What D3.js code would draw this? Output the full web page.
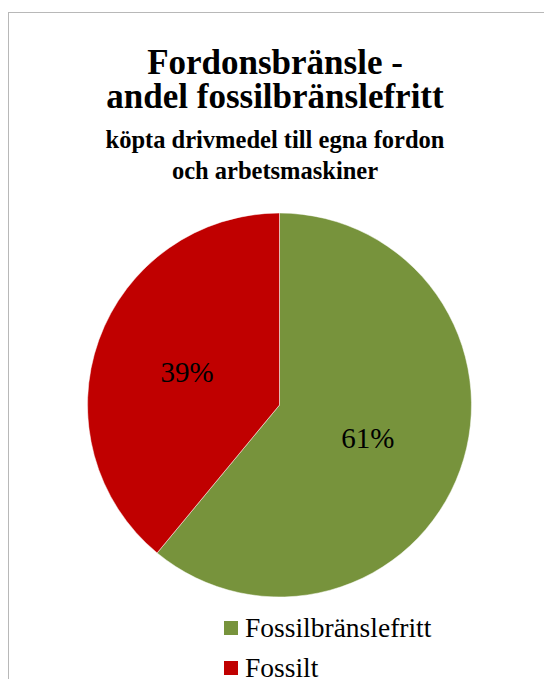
<!DOCTYPE html>
<html><head><meta charset="utf-8">
<script src="https://cdn.jsdelivr.net/npm/d3@7"></script>
<style>html,body{margin:0;padding:0;background:#fff;overflow:hidden}</style>
</head><body>
<svg id="chart" width="544" height="679"></svg>
<script>
const categories = ["Fossilbränslefritt", "Fossilt"];
const values = [61, 39];
const colors = ["#77933C", "#C00000"];
const titleLines = ["Fordonsbränsle -", "andel fossilbränslefritt"];
const subtitleLines = ["köpta drivmedel till egna fordon", "och arbetsmaskiner"];

const FONT = '"Liberation Serif"';
const svg = d3.select("#chart");

svg.append("rect").attr("x", 8.5).attr("y", 12.5).attr("width", 560).attr("height", 700)
  .attr("fill", "#fff").attr("stroke", "#b8b8b8").attr("stroke-width", 1);

const tcx = 275;
svg.selectAll("text.title").data(titleLines).join("text").attr("class", "title")
  .attr("x", tcx).attr("y", (d, i) => 74 + i * 34)
  .attr("text-anchor", "middle").style("font-family", FONT)
  .attr("font-weight", "bold").attr("font-size", 35).attr("fill", "#000").text(d => d);
svg.selectAll("text.sub").data(subtitleLines).join("text").attr("class", "sub")
  .attr("x", tcx).attr("y", (d, i) => 148 + i * 31)
  .attr("text-anchor", "middle").style("font-family", FONT)
  .attr("font-weight", "bold").attr("font-size", 24.5).attr("fill", "#000").text(d => d);

const cx = 279.5, cy = 405, r = 192;
const pie = d3.pie().sort(null).value(d => d.v);
const data = pie(categories.map((c, i) => ({c, v: values[i], col: colors[i]})));
const arc = d3.arc().innerRadius(0).outerRadius(r);
const g = svg.append("g").attr("transform", `translate(${cx},${cy})`);
g.selectAll("path").data(data).join("path").attr("d", arc)
  .attr("fill", d => d.data.col).attr("stroke", "#fff").attr("stroke-width", 0.5);
const total = d3.sum(values);
g.selectAll("text").data(data).join("text")
  .attr("x", d => arc.centroid(d)[0] - 2)
  .attr("y", d => arc.centroid(d)[1] + 10)
  .attr("text-anchor", "middle").style("font-family", FONT).attr("font-size", 29)
  .attr("fill", "#000").text(d => Math.round(d.data.v / total * 100) + "%");

const lg = svg.append("g");
const items = lg.selectAll("g").data(categories).join("g")
  .attr("transform", (d, i) => `translate(224,${621 + i * 40})`);
items.append("rect").attr("width", 14).attr("height", 14).attr("fill", (d, i) => colors[i]);
items.append("text").attr("x", 21).attr("y", 16).style("font-family", FONT)
  .attr("font-size", 27.5).attr("fill", "#000").text(d => d);
</script>
</body></html>
